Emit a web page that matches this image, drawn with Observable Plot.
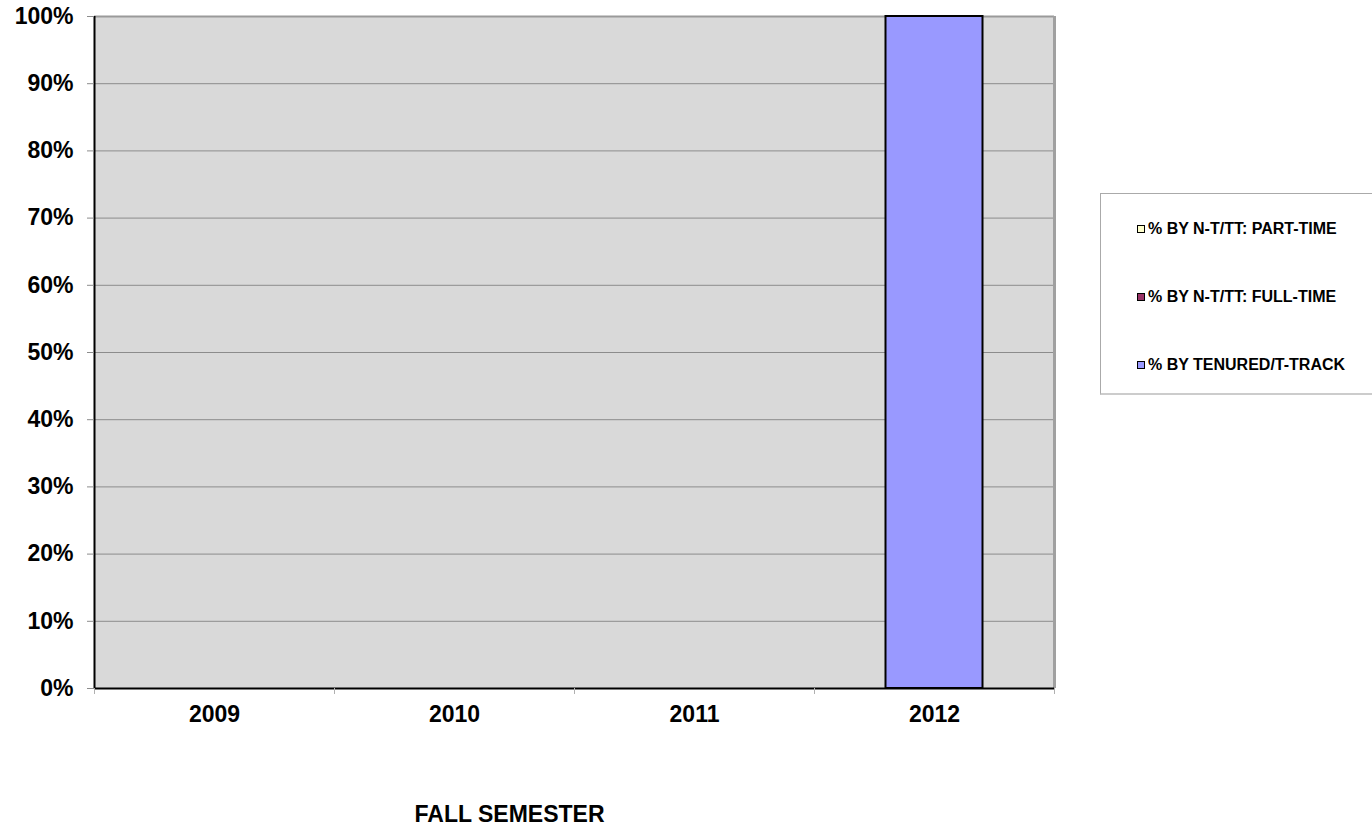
<!DOCTYPE html>
<html>
<head>
<meta charset="utf-8">
<script src="https://cdn.jsdelivr.net/npm/d3@7"></script>
<script src="https://cdn.jsdelivr.net/npm/@observablehq/plot@0.6"></script>
<style>
  html, body { margin: 0; padding: 0; background: #fff; }
  #wrap { position: relative; width: 1372px; height: 828px; overflow: hidden; font-family: Arial, "Liberation Sans", sans-serif; }
  #legend { position: absolute; left: 1100px; top: 193px; width: 300px; height: 202px; border: 1px solid #aaa; border-bottom: 2px solid #ccc; background: #fff; box-sizing: border-box; }
  .li { position: absolute; left: 36px; font-size: 16px; font-weight: bold; color: #000; white-space: nowrap; line-height: 16px; }
  .sw { display: inline-block; width: 6px; height: 6px; border: 1.5px solid #000; margin-right: 3px; vertical-align: 1px; }
  #xtitle { position: absolute; left: 0; width: 1019px; text-align: center; top: 801px; font-size: 23px; font-weight: bold; }
</style>
</head>
<body>
<div id="wrap">
  <div id="chart"></div>
  <div id="legend"></div>
  <div id="xtitle">FALL SEMESTER</div>
</div>
<script>
const years = [2009, 2010, 2011, 2012];
const seriesNames = ["% BY TENURED/T-TRACK", "% BY N-T/TT: FULL-TIME", "% BY N-T/TT: PART-TIME"];
const seriesColors = ["#9999ff", "#993366", "#ffffcc"];
const tenured = [0, 0, 0, 100];
const fullTime = [0, 0, 0, 0];
const partTime = [0, 0, 0, 0];
const yTicks = [0, 10, 20, 30, 40, 50, 60, 70, 80, 90, 100];
const legendOrder = ["% BY N-T/TT: PART-TIME", "% BY N-T/TT: FULL-TIME", "% BY TENURED/T-TRACK"];

const seriesValues = [tenured, fullTime, partTime];
const data = [];
years.forEach((year, i) => {
  seriesNames.forEach((s, j) => data.push({year, series: s, value: seriesValues[j][i]}));
});
const boundaries = [years[0] - 0.5, ...years.map(y => y + 0.5)];

const chart = Plot.plot({
  width: 1372,
  height: 828,
  marginLeft: 94,
  marginRight: 318,
  marginTop: 16,
  marginBottom: 140,
  style: {fontFamily: 'Arial, "Liberation Sans", sans-serif', background: "white", color: "black"},
  x: {domain: [years[0] - 0.5, years[years.length - 1] + 0.5], label: null},
  y: {domain: [0, 100], label: null},
  color: {domain: seriesNames, range: seriesColors},
  marks: [
    Plot.frame({fill: "#d9d9d9"}),
    Plot.ruleY(yTicks.filter(d => d > 0 && d < 100), {stroke: "#8c8c8c", strokeWidth: 1}),
    Plot.ruleY([100], {stroke: "#9a9a9a", strokeWidth: 2}),
    Plot.ruleX([boundaries[boundaries.length - 1]], {stroke: "#a0a0a0", strokeWidth: 3}),
    Plot.rectY(data, Plot.stackY({
      filter: d => d.value > 0,
      x1: d => d.year - 0.5,
      x2: d => d.year + 0.5,
      y: "value",
      fill: "series",
      order: null,
      insetLeft: 71.5,
      insetRight: 71.5,
      stroke: "black",
      strokeWidth: 2
    })),
    Plot.ruleX([boundaries[0]], {stroke: "black", strokeWidth: 2}),
    Plot.ruleY([0], {stroke: "black", strokeWidth: 2}),
    Plot.axisY({ticks: yTicks, label: null, tickSize: 7, tickPadding: 14, tickFormat: d => d + "%", fontSize: 23, fontWeight: "bold", stroke: "#8c8c8c", fill: "black"}),
    Plot.axisX({ticks: boundaries, label: null, tickSize: 6, tickFormat: () => "", stroke: "#b0b0b0"}),
    Plot.axisX({ticks: years, label: null, tickSize: 0, tickPadding: 17, tickFormat: d => String(d), fontSize: 23, fontWeight: "bold", fill: "black"})
  ]
});
document.getElementById("chart").appendChild(chart);

const legend = document.getElementById("legend");
const tops = [27, 95, 163];
legendOrder.forEach((name, i) => {
  const div = document.createElement("div");
  div.className = "li";
  div.style.top = tops[i] + "px";
  const sw = document.createElement("span");
  sw.className = "sw";
  sw.style.background = seriesColors[seriesNames.indexOf(name)];
  div.appendChild(sw);
  div.appendChild(document.createTextNode(name));
  legend.appendChild(div);
});
</script>
</body>
</html>
